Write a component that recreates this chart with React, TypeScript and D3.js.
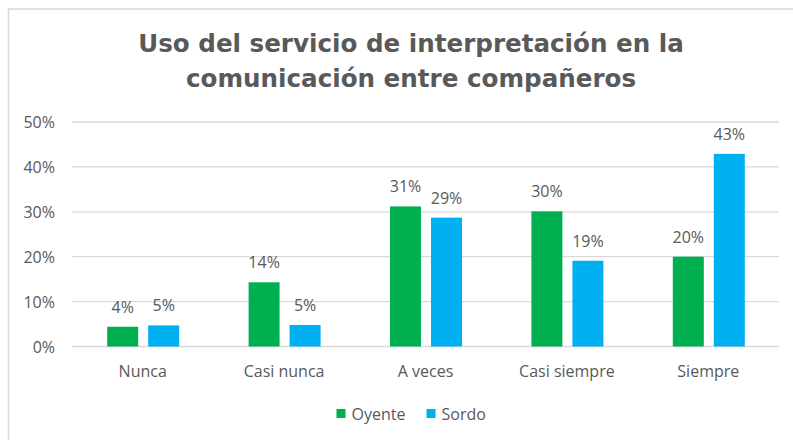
import React from "react";
import * as d3 from "d3";

const categories = ["Nunca", "Casi nunca", "A veces", "Casi siempre", "Siempre"];
const seriesNames = ["Oyente", "Sordo"];
const oyente = [0.044, 0.143, 0.312, 0.301, 0.2];
const sordo = [0.047, 0.048, 0.287, 0.191, 0.429];
const yTicks = [0, 0.1, 0.2, 0.3, 0.4, 0.5];
const titleLines = ["Uso del servicio de interpretación en la", "comunicación entre compañeros"];
const colors = ["#00B050", "#00B0F0"];

const W = 793;
const H = 440;
const left = 72;
const right = 779;
const top = 122;
const bottom = 346.5;
const textColor = "#595959";
const font = "'Open Sans', sans-serif";

export default function App() {
  const x = d3.scaleBand<string>().domain(categories).range([left, right]).paddingInner(0).paddingOuter(0);
  const y = d3.scaleLinear().domain([0, 0.5]).range([bottom, top]);
  const groupW = 72;
  const inner = d3.scaleBand<string>().domain(seriesNames).range([0, groupW]).paddingInner(10 / 41);
  const fmt = d3.format(".0%");
  const series = [oyente, sordo];
  const bw = inner.bandwidth();

  return (
    <div style={{ position: "fixed", left: 0, top: 0, width: W, height: H, background: "#fff" }}>
      <svg width={W} height={H} style={{ display: "block" }}>
        <rect x={8.5} y={9} width={W + 20} height={H + 20} fill="#fff" stroke="#d9d9d9" strokeWidth={1.5} />
        {titleLines.map((t, i) => (
          <text
            key={i}
            x={411}
            y={52 + i * 35}
            textAnchor="middle"
            fill={textColor}
            style={{ font: `bold 24.6px 'DejaVu Sans', sans-serif` }}
          >
            {t}
          </text>
        ))}
        {yTicks.map((t) => (
          <g key={t}>
            <line x1={left} x2={right} y1={y(t)} y2={y(t)} stroke="#d9d9d9" strokeWidth={1.3} />
            <text x={55} y={y(t) + 6} textAnchor="end" fill={textColor} style={{ font: `16px ${font}` }}>
              {fmt(t)}
            </text>
          </g>
        ))}
        {categories.map((c, ci) => {
          const gx = (x(c) as number) + x.bandwidth() / 2 - groupW / 2 + 0.5;
          return (
            <g key={c}>
              {series.map((s, si) => {
                const bx = gx + (inner(seriesNames[si]) as number);
                const by = y(s[ci]);
                return (
                  <g key={si}>
                    <rect x={bx} y={by} width={bw} height={bottom - by} fill={colors[si]} />
                    <text
                      x={bx + bw / 2}
                      y={by - 14}
                      textAnchor="middle"
                      fill={textColor}
                      style={{ font: `16px ${font}` }}
                    >
                      {fmt(s[ci])}
                    </text>
                  </g>
                );
              })}
              <text
                x={(x(c) as number) + x.bandwidth() / 2}
                y={377}
                textAnchor="middle"
                fill={textColor}
                style={{ font: `16px ${font}` }}
              >
                {c}
              </text>
            </g>
          );
        })}
        {seriesNames.map((n, i) => {
          const lx = i === 0 ? 336.5 : 426.5;
          return (
            <g key={n}>
              <rect x={lx} y={409} width={9} height={9} fill={colors[i]} />
              <text x={lx + 15} y={419.5} fill={textColor} style={{ font: `16px ${font}` }}>
                {n}
              </text>
            </g>
          );
        })}
      </svg>
    </div>
  );
}
